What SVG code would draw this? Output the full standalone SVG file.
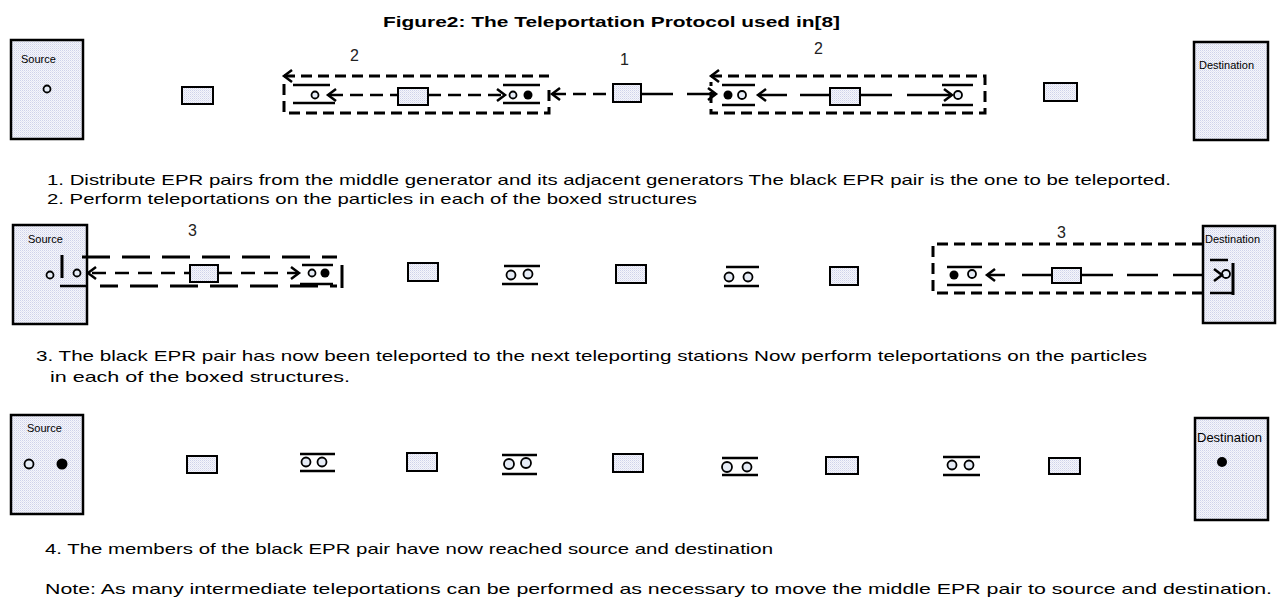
<svg xmlns="http://www.w3.org/2000/svg" width="1278" height="601" viewBox="0 0 1278 601">
<defs>
<pattern id="stip" width="2" height="2" patternUnits="userSpaceOnUse"><rect width="2" height="2" fill="#f5f6fb"/><rect width="1" height="1" fill="#cfd2ea"/><rect x="1" y="1" width="1" height="1" fill="#e2e4f2"/></pattern>
<path id="aL" d="M8,-6 L0,0 L8,6"/>
<path id="aR" d="M-8,-6 L0,0 L-8,6"/>
</defs>
<style>
.box{fill:url(#stip);stroke:#000;stroke-width:2.5}
.gen{fill:url(#stip);stroke:#000;stroke-width:2}
.lbl{font-family:"Liberation Sans",Arial,sans-serif;font-size:11px;fill:#000}
.num{font-family:"Liberation Sans",Arial,sans-serif;font-size:16px;fill:#222}
.txt{font-family:"Liberation Sans",Arial,sans-serif;font-size:15px;fill:#000}
.ttl{font-family:"Liberation Sans",Arial,sans-serif;font-size:15px;font-weight:bold;fill:#000}
.oc{fill:#e6ecf6;stroke:#000;stroke-width:1.8}
.fc{fill:#000}
.dbox{stroke:#000;stroke-width:3;fill:none;stroke-dasharray:11 6}
.dl{stroke:#000;stroke-width:2.5;fill:none;stroke-dasharray:13 7}
.sl{stroke:#000;stroke-width:2.5;fill:none}
.ah{stroke:#000;stroke-width:2.5;fill:none}
.ld{stroke:#000;stroke-width:3;fill:none;stroke-dasharray:28 12}
</style>
<rect width="1278" height="601" fill="#fff"/>
<text class="ttl" x="383" y="27" textLength="457" lengthAdjust="spacingAndGlyphs">Figure2: The Teleportation Protocol used in[8]</text>

<!-- ROW 1 -->
<g id="r1-source"><rect class="box" x="11" y="40" width="72" height="99"/><text class="lbl" x="21" y="63">Source</text><circle class="oc" cx="47" cy="89" r="3.5"/></g>
<g id="r1-gen1"><rect class="gen" x="182" y="87" width="31" height="17"/></g>
<g id="r1-gen2"><rect class="gen" x="398" y="88" width="30" height="17"/></g>
<g id="r1-gen3"><rect class="gen" x="613" y="84" width="28" height="18"/></g>
<g id="r1-gen4"><rect class="gen" x="830" y="88" width="30" height="17"/></g>
<g id="r1-gen5"><rect class="gen" x="1044" y="83" width="33" height="18"/></g>
<g id="r1-dest"><rect class="box" x="1194" y="42" width="74" height="98"/><text class="lbl" x="1199" y="69">Destination</text></g>
<g id="r1-pairA"><line class="sl" x1="293" y1="85" x2="330" y2="85"/><line class="sl" x1="293" y1="103" x2="335" y2="103"/><circle class="oc" cx="315" cy="95" r="3.5"/></g>
<g id="r1-pairB"><line class="sl" x1="503" y1="85" x2="540" y2="85"/><line class="sl" x1="503" y1="103" x2="540" y2="103"/><circle class="oc" cx="513" cy="95" r="3.5"/><circle class="fc" cx="528" cy="95" r="4.5"/></g>
<g id="r1-pairC"><line class="sl" x1="722" y1="85" x2="755" y2="85"/><line class="sl" x1="722" y1="105" x2="755" y2="105"/><circle class="fc" cx="728" cy="95" r="4.5"/><circle class="oc" cx="742" cy="95" r="4"/></g>
<g id="r1-pairD"><line class="sl" x1="942" y1="85" x2="973" y2="85"/><line class="sl" x1="942" y1="105" x2="973" y2="105"/><circle class="oc" cx="958" cy="95" r="4"/></g>
<text class="num" x="350" y="61">2</text>
<text class="num" x="620" y="65">1</text>
<text class="num" x="814" y="54">2</text>

<!-- ROW 2 -->
<g id="r2-source"><rect class="box" x="13" y="225" width="74" height="99"/><text class="lbl" x="28" y="243">Source</text><circle class="oc" cx="50" cy="275" r="3.5"/></g>
<g id="r2-leftpair"><circle class="oc" cx="77" cy="273" r="3.5"/></g>
<g id="r2-gen0"><rect class="gen" x="190" y="265" width="28" height="17"/></g>
<g id="r2-pairE"><line class="sl" x1="302" y1="265" x2="333" y2="265"/><line class="sl" x1="300" y1="284" x2="333" y2="284"/><circle class="oc" cx="312" cy="273" r="3.5"/><circle class="fc" cx="325" cy="273" r="4.5"/></g>
<g id="r2-gen1"><rect class="gen" x="408" y="263" width="30" height="18"/></g>
<g id="r2-pair1"><line class="sl" x1="504" y1="266" x2="540" y2="266"/><line class="sl" x1="502" y1="284" x2="538" y2="284"/><circle class="oc" cx="511" cy="275" r="4.5"/><circle class="oc" cx="528" cy="274" r="4.5"/></g>
<g id="r2-gen2"><rect class="gen" x="616" y="265" width="30" height="18"/></g>
<g id="r2-pair2"><line class="sl" x1="726" y1="267" x2="759" y2="267"/><line class="sl" x1="724" y1="286" x2="759" y2="286"/><circle class="oc" cx="729" cy="277" r="4.5"/><circle class="oc" cx="748" cy="277" r="4.5"/></g>
<g id="r2-gen3"><rect class="gen" x="830" y="267" width="28" height="18"/></g>
<g id="r2-pairF"><line class="sl" x1="947" y1="267" x2="982" y2="267"/><line class="sl" x1="947" y1="285" x2="982" y2="285"/><circle class="fc" cx="954" cy="275" r="4.5"/><circle class="oc" cx="972" cy="274" r="4"/></g>
<g id="r2-gen4"><rect class="gen" x="1052" y="268" width="29" height="15"/></g>
<g id="r2-dest"><rect class="box" x="1203" y="226" width="72" height="97"/><text class="lbl" x="1205" y="243">Destination</text><circle class="oc" cx="1226" cy="274" r="4"/></g>
<text class="num" x="188" y="236">3</text>
<text class="num" x="1057" y="238">3</text>

<!-- ROW 3 -->
<g id="r3-source"><rect class="box" x="11" y="415" width="72" height="99"/><text class="lbl" x="27" y="432">Source</text><circle class="oc" cx="29" cy="464" r="4.5"/><circle class="fc" cx="62" cy="464" r="5.5"/></g>
<g id="r3-gen1"><rect class="gen" x="187" y="456" width="30" height="17"/></g>
<g id="r3-pair1"><line class="sl" x1="300" y1="454" x2="335" y2="454"/><line class="sl" x1="300" y1="471" x2="335" y2="471"/><circle class="oc" cx="306" cy="462" r="4.5"/><circle class="oc" cx="322" cy="462" r="4.5"/></g>
<g id="r3-gen2"><rect class="gen" x="407" y="453" width="30" height="18"/></g>
<g id="r3-pair2"><line class="sl" x1="502" y1="455" x2="537" y2="455"/><line class="sl" x1="502" y1="474" x2="537" y2="474"/><circle class="oc" cx="509" cy="464" r="5"/><circle class="oc" cx="526" cy="463" r="5"/></g>
<g id="r3-gen3"><rect class="gen" x="613" y="454" width="30" height="18"/></g>
<g id="r3-pair3"><line class="sl" x1="722" y1="458" x2="758" y2="458"/><line class="sl" x1="722" y1="475" x2="758" y2="475"/><circle class="oc" cx="727" cy="467" r="5"/><circle class="oc" cx="747" cy="467" r="4.5"/></g>
<g id="r3-gen4"><rect class="gen" x="826" y="457" width="32" height="17"/></g>
<g id="r3-pair4"><line class="sl" x1="943" y1="457" x2="980" y2="457"/><line class="sl" x1="943" y1="475" x2="980" y2="475"/><circle class="oc" cx="952" cy="465" r="4.5"/><circle class="oc" cx="969" cy="465" r="4.5"/></g>
<g id="r3-gen5"><rect class="gen" x="1049" y="458" width="31" height="16"/></g>
<g id="r3-dest"><rect class="box" x="1195" y="418" width="73" height="102"/><text class="lbl" x="1197" y="442" style="font-size:13px">Destination</text><circle class="fc" cx="1222" cy="462" r="5"/></g>

<g id="connectors">
<!-- row 1 left dashed box -->
<path class="dbox" d="M284,76 H549 M284,84 V113 H549 V88"/>
<use href="#aL" x="284" y="76" class="ah"/>
<path class="dl" d="M330,95 H398 M428,95 H503"/>
<use href="#aL" x="328" y="95" class="ah"/>
<use href="#aR" x="505" y="95" class="ah"/>
<path class="dl" d="M553,94 H613"/>
<use href="#aL" x="552" y="94" class="ah"/>
<path class="sl" d="M641,94 H673 M687,94 H714"/>
<use href="#aR" x="716" y="94" class="ah"/>
<!-- row 1 right dashed box -->
<path class="dbox" d="M711,76 H985 V113 H711 V82"/>
<use href="#aL" x="711" y="76" class="ah"/>
<path class="sl" d="M760,95 H787 M800,95 H830 M860,95 H892 M907,95 H950"/>
<use href="#aL" x="758" y="95" class="ah"/>
<use href="#aR" x="952" y="95" class="ah"/>

<!-- row 2 left structure -->
<path class="sl" d="M62,255 V278" style="stroke-width:3"/>
<path class="sl" d="M60,286 H87"/>
<path class="ld" d="M82,257 H337"/>
<path class="ld" d="M100,286 H337" style="stroke-dashoffset:10"/>
<path class="sl" d="M342,265 V288" style="stroke-width:3"/>
<path class="dl" d="M92,273 H190 M218,273 H297" style="stroke-dasharray:14 9"/>
<use href="#aL" x="88" y="273" class="ah"/>
<use href="#aR" x="299" y="273" class="ah"/>

<!-- row 2 right structure -->
<path class="dbox" d="M1203,244 H933 V293 H1203"/>
<path class="sl" d="M989,275 H1005 M1022,275 H1052 M1081,275 H1113 M1127,275 H1158 M1173,275 H1203"/>
<use href="#aL" x="987" y="275" class="ah"/>
<path class="sl" d="M1210,260 H1228 M1210,293 H1233"/>
<path class="sl" d="M1233,263 V295" style="stroke-width:3"/>
<use href="#aR" x="1222" y="275" class="ah"/>
</g>

<text class="txt" x="47" y="185" textLength="1124" lengthAdjust="spacingAndGlyphs">1. Distribute EPR pairs from the middle generator and its adjacent generators The black EPR pair is the one to be teleported.</text>
<text class="txt" x="47" y="204" textLength="650" lengthAdjust="spacingAndGlyphs">2. Perform teleportations on the particles in each of the boxed structures</text>
<text class="txt" x="36" y="361" textLength="1111" lengthAdjust="spacingAndGlyphs">3. The black EPR pair has now been teleported to the next teleporting stations Now perform teleportations on the particles</text>
<text class="txt" x="50" y="382" textLength="300" lengthAdjust="spacingAndGlyphs">in each of the boxed structures.</text>
<text class="txt" x="45" y="554" textLength="728" lengthAdjust="spacingAndGlyphs">4. The members of the black EPR pair have now reached source and destination</text>
<text class="txt" x="45" y="594" textLength="1227" lengthAdjust="spacingAndGlyphs">Note: As many intermediate teleportations can be performed as necessary to move the middle EPR pair to source and destination.</text>
</svg>
